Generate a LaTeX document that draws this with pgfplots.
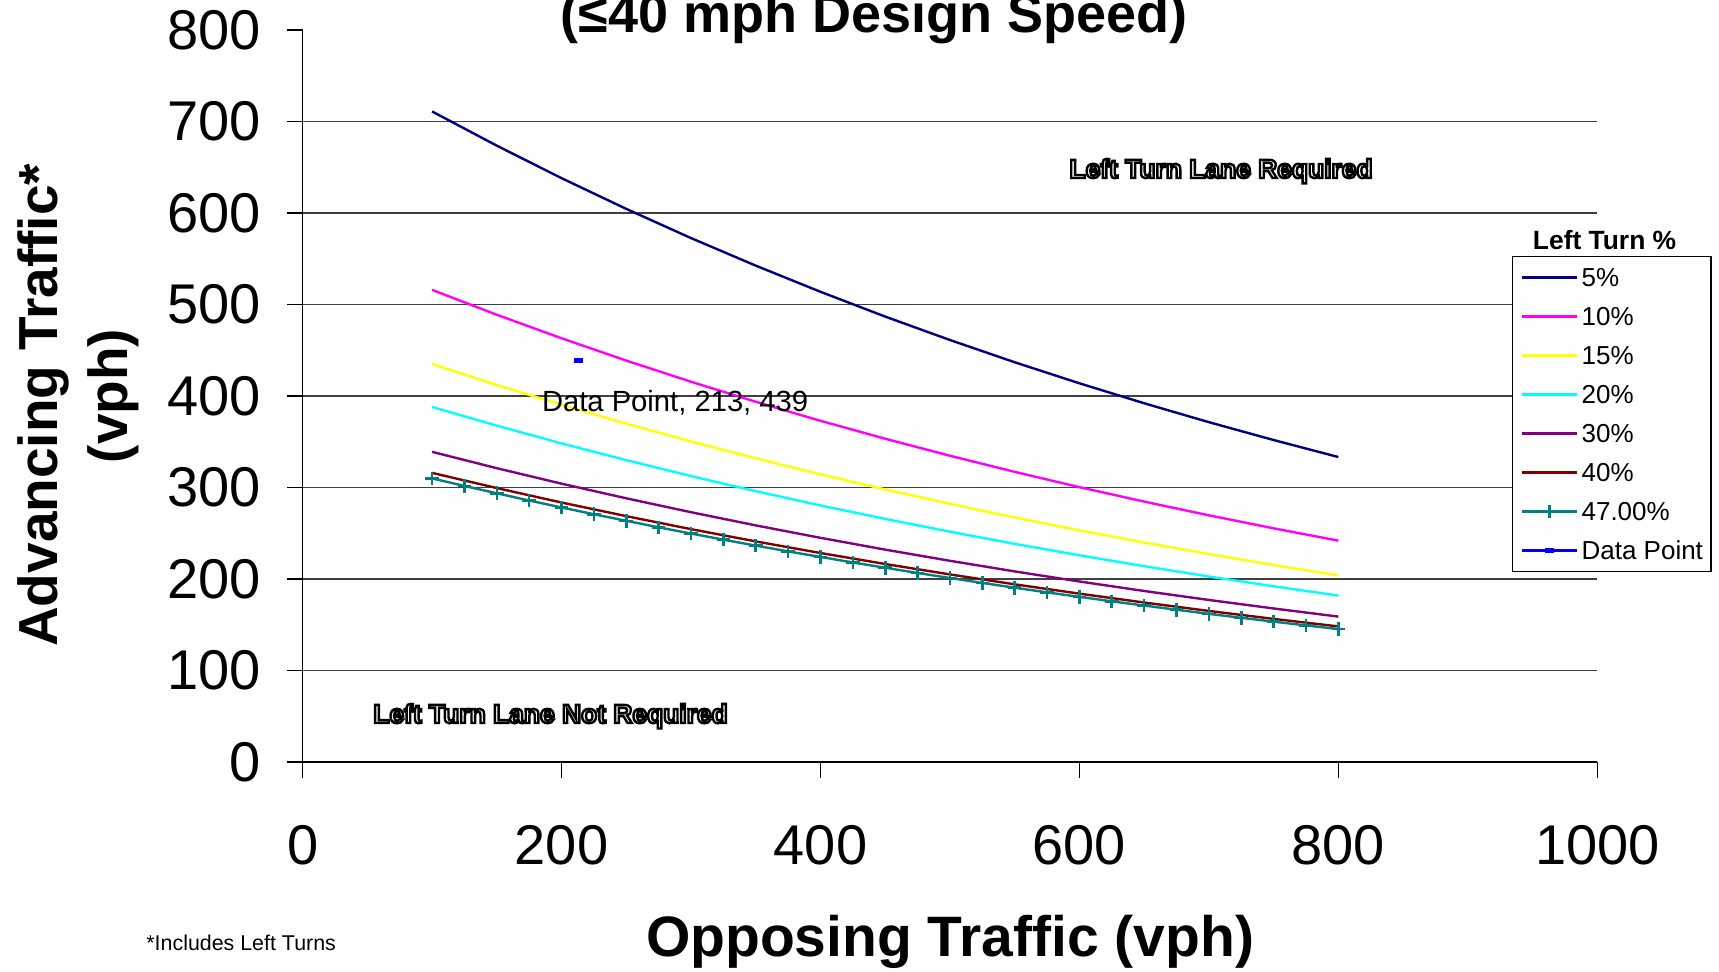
\documentclass[border=0pt]{standalone}
\usepackage{pgfplots}
\pgfplotsset{compat=1.18}
\usepackage{fontspec}
\setmainfont{Liberation Sans}
\definecolor{c5}{RGB}{0,0,128}
\definecolor{c10}{RGB}{255,0,255}
\definecolor{c15}{RGB}{255,255,0}
\definecolor{c20}{RGB}{0,255,255}
\definecolor{c30}{RGB}{128,0,128}
\definecolor{c40}{RGB}{128,0,0}
\definecolor{c47}{RGB}{0,128,128}
\definecolor{cdp}{RGB}{0,0,255}
\newcommand\outlined[1]{\special{pdf:literal direct 0 G 1 g 2 Tr 1.2 w}#1\special{pdf:literal direct 0 Tr 0 g}}
\begin{document}
\begin{tikzpicture}
\begin{axis}[
 at={(0pt,0pt)}, anchor=south west,
 scale only axis, width=647.35pt, height=366pt,
 xmin=0, xmax=1000, ymin=0, ymax=800,
 axis lines*=left,
 axis line style={black, line width=0.7pt},
 xtick={0,200,...,1000}, ytick={0,100,...,800},
 tick align=outside, major tick length=7.8pt,
 tick style={black, line width=0.7pt},
 extra y ticks={100,200,...,700}, extra y tick labels={},
 extra y tick style={grid=major, major tick length=0pt},
 major grid style={black!75, line width=0.6pt},
 /pgf/number format/assume math mode=true,
 /pgf/number format/1000 sep={},
 tick label style={font=\fontsize{28}{32}\selectfont},
 yticklabel style={anchor=east, inner sep=0pt, xshift=-13pt},
 xticklabel style={anchor=north, inner sep=0pt, yshift=-23.5pt},
 clip=false,
 legend cell align=left,
 legend image code/.code={\draw[mark repeat=2,mark phase=2,#1] plot coordinates {(0pt,0pt) (13.75pt,0pt) (27.5pt,0pt)};},
 legend style={at={(axis description cs:0.9341,0.6913)}, anchor=north west,
   draw=black, line width=0.6pt, fill=white,
   font=\fontsize{13}{15}\selectfont,
   inner xsep=4pt, inner ysep=4pt, row sep=6.5pt, column sep=1.8pt,
   nodes={inner sep=0pt, text height=11pt, text depth=2pt}},
 every axis plot/.append style={line width=1.2pt},
]
\addplot[c5, no markers] coordinates {(100,711) (150,673.6) (200,638.1) (250,604.5) (300,572.6) (350,542.5) (400,513.9) (450,486.8) (500,461.2) (550,436.9) (600,413.9) (650,392.1) (700,371.4) (750,351.9) (800,333.3)};
\addlegendentry{5\%}
\addplot[c10, no markers] coordinates {(100,516) (150,488.8) (200,463.1) (250,438.7) (300,415.6) (350,393.7) (400,372.9) (450,353.3) (500,334.7) (550,317.1) (600,300.4) (650,284.6) (700,269.6) (750,255.4) (800,241.9)};
\addlegendentry{10\%}
\addplot[c15, no markers] coordinates {(100,435) (150,412.1) (200,390.4) (250,369.8) (300,350.3) (350,331.9) (400,314.4) (450,297.9) (500,282.2) (550,267.3) (600,253.2) (650,239.9) (700,227.3) (750,215.3) (800,203.9)};
\addlegendentry{15\%}
\addplot[c20, no markers] coordinates {(100,388) (150,367.6) (200,348.2) (250,329.9) (300,312.5) (350,296.0) (400,280.4) (450,265.7) (500,251.7) (550,238.4) (600,225.9) (650,214.0) (700,202.7) (750,192.0) (800,181.9)};
\addlegendentry{20\%}
\addplot[c30, no markers] coordinates {(100,339) (150,321.1) (200,304.2) (250,288.2) (300,273.0) (350,258.6) (400,245.0) (450,232.1) (500,219.9) (550,208.3) (600,197.3) (650,186.9) (700,177.1) (750,167.8) (800,158.9)};
\addlegendentry{30\%}
\addplot[c40, no markers] coordinates {(100,316) (150,299.4) (200,283.6) (250,268.7) (300,254.5) (350,241.1) (400,228.4) (450,216.4) (500,205.0) (550,194.2) (600,184.0) (650,174.3) (700,165.1) (750,156.4) (800,148.2)};
\addlegendentry{40\%}
\addplot[c47, mark=+, mark size=3.4pt, mark options={line width=1.3pt}] coordinates {(100,310) (125,301.7) (150,293.7) (175,285.8) (200,278.2) (225,270.8) (250,263.6) (275,256.5) (300,249.7) (325,243.0) (350,236.5) (375,230.2) (400,224.1) (425,218.1) (450,212.3) (475,206.6) (500,201.1) (525,195.7) (550,190.5) (575,185.4) (600,180.5) (625,175.6) (650,171.0) (675,166.4) (700,161.9) (725,157.6) (750,153.4) (775,149.3) (800,145.3)};
\addlegendentry{47.00\%}
\addplot[cdp, mark=-, mark size=2.3pt, mark options={line width=2.4pt}] coordinates {(213,439)};
\addlegendentry{Data Point}
\node[anchor=base west, font=\fontsize{14.6}{16}\selectfont, inner sep=0pt] at (axis cs:184.6,382.8) {Data Point, 213, 439};
\node[anchor=base, font=\bfseries\fontsize{13.2}{15}\selectfont, inner sep=0pt] at (axis cs:709.4,638.3) {\outlined{Left Turn Lane Required}};
\node[anchor=base, font=\bfseries\fontsize{13.2}{15}\selectfont, inner sep=0pt] at (axis cs:191.5,42.6) {\outlined{Left Turn Lane Not Required}};
\node[anchor=base, font=\bfseries\fontsize{13.2}{15}\selectfont, inner sep=0pt] at (rel axis cs:1.0056,0.6995) {Left Turn \%};
\end{axis}
\node[anchor=base, font=\bfseries\fontsize{27}{30}\selectfont, inner sep=0pt] at (285.7pt,364.5pt) {(≤40 mph Design Speed)};
\node[rotate=90, anchor=base, font=\bfseries\fontsize{27.5}{30}\selectfont, inner sep=0pt] at (-122.5pt,178.3pt) {Advancing Traffic*};
\node[rotate=90, anchor=base, font=\bfseries\fontsize{27.5}{30}\selectfont, inner sep=0pt] at (-87.5pt,183pt) {(vph)};
\node[anchor=base, font=\bfseries\fontsize{28.5}{32}\selectfont, inner sep=0pt] at (323.7pt,-97pt) {Opposing Traffic (vph)};
\node[anchor=base west, font=\fontsize{10.7}{12}\selectfont, inner sep=0pt] at (-78.3pt,-94.3pt) {*Includes Left Turns};
\pgfresetboundingbox
\useasboundingbox (-151.3pt,-104.5pt) rectangle (708.2pt,381pt);
\end{tikzpicture}
\end{document}
